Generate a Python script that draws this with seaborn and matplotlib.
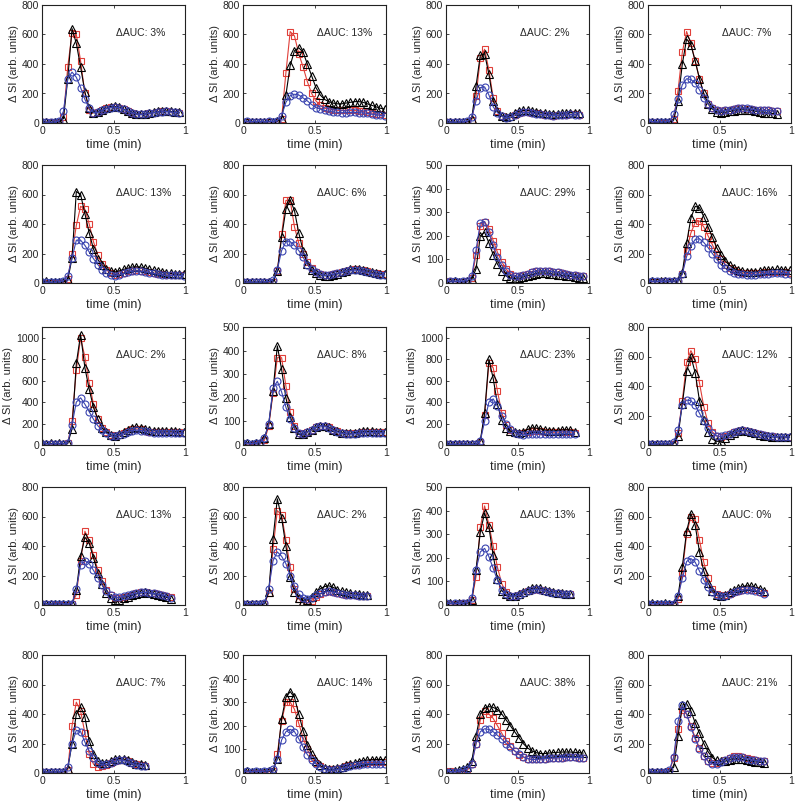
import numpy as np
import matplotlib
matplotlib.use("Agg")
import matplotlib.pyplot as plt
import seaborn as sns

dt = 0.03  # sampling step of the curves (min)

# row 1
red_p01 = [4, 8, 5, 3, 9, 40, 380, 610, 600, 420, 200, 90, 70, 75, 85, 100, 110, 110, 105, 95, 80, 70, 60, 60, 60, 65, 70, 75, 80, 80, 75, 75, 70]
blk_p01 = [5, 5, 3, 5, 10, 30, 300, 640, 540, 380, 210, 100, 70, 75, 85, 100, 110, 112, 108, 95, 80, 70, 62, 60, 62, 68, 72, 78, 80, 82, 78, 75, 72]
blu_p01 = [5, 5, 5, 6, 15, 80, 300, 345, 310, 240, 160, 100, 70, 72, 85, 98, 105, 108, 104, 92, 80, 68, 60, 58, 60, 65, 70, 74, 76, 78, 74, 72, 68]

red_p02 = [5, 8, 6, 4, 7, 5, 8, 6, 10, 30, 340, 620, 590, 470, 380, 280, 200, 150, 120, 100, 95, 90, 85, 85, 85, 85, 85, 80, 78, 72, 68, 62, 58, 55]
blk_p02 = [6, 10, 8, 5, 8, 6, 10, 8, 12, 30, 190, 390, 490, 510, 480, 400, 320, 240, 190, 160, 145, 135, 130, 130, 135, 140, 145, 145, 140, 130, 120, 110, 100, 95]
blu_p02 = [8, 12, 10, 8, 10, 8, 12, 10, 15, 50, 140, 185, 195, 190, 170, 150, 125, 105, 95, 85, 80, 75, 72, 70, 70, 72, 72, 70, 68, 65, 60, 55, 52, 50]

red_p03 = [5, 6, 4, 5, 6, 8, 20, 180, 440, 500, 360, 170, 80, 45, 35, 40, 55, 70, 75, 75, 70, 65, 60, 55, 52, 50, 52, 55, 55, 58, 58, 55]
blk_p03 = [6, 8, 5, 6, 8, 10, 30, 250, 460, 470, 330, 150, 80, 50, 40, 50, 65, 78, 85, 85, 80, 75, 70, 65, 62, 60, 62, 65, 68, 70, 70, 65]
blu_p03 = [5, 6, 5, 6, 8, 12, 40, 150, 240, 245, 190, 110, 70, 45, 35, 40, 55, 65, 72, 72, 68, 62, 58, 55, 52, 50, 52, 55, 55, 58, 55, 55]

red_p04 = [5, 6, 4, 2, 0, 5, 30, 220, 480, 620, 540, 420, 300, 200, 130, 100, 85, 80, 85, 90, 95, 100, 100, 98, 95, 90, 88, 85, 85, 82, 80]
blk_p04 = [6, 8, 5, 5, 5, 5, 20, 150, 400, 570, 530, 420, 300, 200, 130, 95, 75, 70, 72, 78, 82, 88, 90, 88, 85, 80, 75, 70, 68, 65, 62]
blu_p04 = [8, 10, 8, 6, 8, 10, 60, 160, 260, 300, 295, 270, 225, 170, 130, 100, 85, 80, 85, 90, 95, 100, 102, 100, 95, 90, 88, 85, 85, 82, 80]

# row 2
red_p05 = [0, 0, 0, 0, 0, 2, 30, 200, 390, 520, 500, 400, 280, 190, 130, 90, 65, 55, 60, 70, 78, 82, 85, 82, 78, 72, 68, 62, 58, 55, 55, 55, 55, 52]
blk_p05 = [8, 12, 5, 10, 6, 8, 20, 170, 620, 600, 470, 340, 230, 160, 120, 95, 80, 75, 82, 92, 100, 108, 110, 108, 100, 92, 85, 78, 72, 68, 65, 62, 60, 58]
blu_p05 = [5, 6, 5, 6, 8, 15, 50, 170, 290, 290, 255, 210, 165, 125, 90, 65, 52, 48, 55, 65, 72, 80, 82, 80, 75, 70, 65, 60, 55, 52, 52, 52, 52, 50]

red_p06 = [4, 6, 5, 4, 6, 5, 6, 10, 80, 330, 560, 560, 380, 270, 200, 140, 100, 75, 60, 52, 52, 58, 65, 72, 80, 88, 92, 90, 85, 78, 70, 65, 60, 58]
blk_p06 = [5, 8, 6, 5, 7, 6, 8, 10, 80, 310, 500, 565, 490, 340, 220, 130, 85, 65, 55, 50, 50, 55, 62, 72, 82, 92, 98, 95, 90, 82, 75, 68, 62, 60]
blu_p06 = [5, 6, 6, 5, 6, 8, 10, 20, 90, 220, 280, 280, 255, 220, 175, 125, 95, 75, 60, 52, 52, 58, 65, 72, 80, 85, 88, 85, 80, 72, 65, 60, 57, 55]

red_p07 = [4, 8, 6, 5, 6, 8, 20, 120, 240, 260, 230, 180, 130, 90, 60, 40, 30, 28, 32, 38, 45, 50, 52, 52, 50, 48, 45, 42, 38, 35, 32, 30, 28]
blk_p07 = [5, 6, 8, 6, 5, 8, 15, 60, 200, 215, 170, 120, 80, 50, 30, 20, 18, 20, 25, 30, 35, 40, 42, 42, 40, 38, 35, 32, 30, 28, 25, 22, 20]
blu_p07 = [6, 8, 8, 6, 8, 10, 30, 140, 255, 260, 215, 160, 110, 75, 50, 35, 28, 28, 32, 38, 45, 50, 52, 52, 50, 48, 45, 42, 38, 35, 32, 30, 28]

red_p08 = [8, 10, 9, 10, 12, 10, 12, 15, 60, 220, 340, 410, 420, 380, 320, 260, 200, 160, 125, 100, 85, 75, 68, 65, 65, 68, 70, 72, 75, 75, 75, 74, 72, 70]
blk_p08 = [10, 12, 10, 12, 12, 10, 12, 15, 70, 270, 440, 520, 510, 450, 380, 310, 240, 190, 150, 120, 100, 85, 78, 72, 72, 75, 80, 85, 88, 90, 92, 90, 88, 85]
blu_p08 = [10, 12, 12, 10, 12, 12, 14, 15, 60, 180, 250, 295, 300, 275, 240, 200, 160, 125, 100, 82, 70, 62, 58, 55, 55, 57, 60, 62, 64, 65, 65, 65, 64, 62]

# row 3
red_p09 = [10, 12, 8, 10, 12, 10, 15, 220, 700, 1000, 820, 580, 380, 240, 160, 120, 90, 80, 90, 110, 130, 145, 150, 145, 135, 125, 120, 118, 118, 120, 120, 118, 118, 115]
blk_p09 = [15, 12, 15, 10, 15, 12, 15, 150, 760, 1030, 720, 520, 350, 240, 160, 120, 95, 85, 100, 120, 140, 155, 165, 160, 150, 140, 135, 130, 130, 130, 130, 128, 125, 122]
blu_p09 = [10, 12, 10, 12, 10, 12, 20, 190, 400, 440, 380, 310, 240, 180, 140, 110, 85, 80, 90, 105, 125, 135, 140, 135, 128, 120, 115, 112, 112, 112, 112, 110, 110, 108]

red_p10 = [5, 0, 2, 5, 8, 20, 80, 220, 370, 370, 250, 140, 80, 50, 45, 55, 65, 75, 82, 82, 75, 65, 58, 52, 50, 48, 50, 52, 55, 55, 55, 55, 55, 54]
blk_p10 = [8, 10, 5, 8, 10, 30, 90, 230, 420, 320, 200, 120, 70, 45, 45, 55, 65, 75, 82, 82, 75, 65, 58, 52, 50, 50, 52, 55, 58, 58, 58, 57, 56, 55]
blu_p10 = [6, 8, 6, 8, 10, 30, 90, 240, 270, 225, 160, 110, 70, 50, 45, 55, 65, 75, 82, 80, 72, 62, 55, 50, 48, 46, 48, 50, 52, 52, 52, 52, 52, 51]

red_p11 = [5, 6, 5, 4, 6, 5, 6, 5, 30, 280, 760, 720, 500, 300, 190, 140, 115, 105, 110, 120, 128, 130, 128, 122, 118, 118, 120, 122, 122, 120, 115]
blk_p11 = [6, 8, 6, 5, 8, 6, 8, 5, 40, 300, 800, 620, 380, 230, 160, 130, 120, 115, 125, 145, 160, 158, 150, 138, 132, 132, 135, 140, 142, 138, 125]
blu_p11 = [8, 6, 8, 6, 8, 6, 8, 5, 40, 220, 400, 430, 360, 270, 200, 150, 115, 100, 95, 98, 102, 105, 105, 102, 100, 100, 102, 104, 104, 103, 100]

red_p12 = [5, 6, 5, 6, 5, 6, 10, 80, 300, 560, 640, 580, 420, 260, 150, 90, 60, 55, 62, 75, 85, 95, 100, 98, 90, 80, 72, 65, 60, 58, 56, 55, 55, 54]
blk_p12 = [6, 8, 6, 5, 8, 6, 10, 60, 280, 500, 600, 490, 300, 170, 90, 40, 25, 25, 45, 65, 82, 95, 100, 98, 88, 78, 70, 62, 58, 55, 55, 55, 54, 53]
blu_p12 = [8, 6, 8, 8, 6, 10, 20, 100, 270, 305, 300, 270, 215, 160, 115, 80, 62, 58, 65, 75, 85, 95, 100, 98, 90, 80, 72, 65, 60, 58, 56, 55, 55, 54]

# row 4
red_p13 = [5, 8, 6, 0, 0, 0, 2, 10, 70, 300, 500, 440, 340, 240, 160, 100, 65, 50, 50, 55, 62, 70, 78, 85, 85, 82, 78, 72, 68, 60, 52]
blk_p13 = [8, 10, 6, 8, 10, 8, 6, 10, 100, 330, 460, 420, 320, 220, 140, 80, 45, 32, 35, 45, 55, 65, 75, 82, 85, 82, 76, 70, 62, 52, 42]
blu_p13 = [6, 8, 8, 6, 8, 8, 6, 10, 110, 270, 300, 280, 235, 185, 135, 95, 65, 52, 52, 58, 65, 72, 80, 85, 85, 82, 78, 72, 68, 60, 50]

red_p14 = [5, 6, 5, 6, 8, 10, 80, 380, 640, 610, 440, 260, 110, 40, 15, 15, 30, 55, 75, 88, 92, 90, 82, 75, 70, 68, 65, 64, 62, 60]
blk_p14 = [6, 8, 6, 8, 6, 10, 90, 450, 720, 590, 400, 190, 90, 45, 30, 35, 55, 85, 110, 125, 130, 120, 105, 92, 85, 80, 75, 72, 70, 68]
blu_p14 = [8, 10, 8, 10, 8, 15, 110, 300, 360, 330, 280, 200, 130, 75, 50, 42, 50, 65, 78, 88, 92, 88, 82, 75, 70, 68, 65, 64, 62, 60]

red_p15 = [5, 6, 0, 4, 8, 6, 20, 120, 330, 420, 340, 250, 160, 90, 55, 40, 38, 42, 50, 60, 65, 68, 65, 60, 55, 52, 50, 48, 46, 45]
blk_p15 = [6, 8, 6, 8, 6, 8, 20, 150, 310, 390, 330, 210, 110, 60, 45, 38, 40, 45, 55, 65, 70, 72, 70, 65, 58, 55, 52, 50, 48, 46]
blu_p15 = [8, 6, 8, 6, 8, 10, 30, 150, 225, 240, 205, 155, 105, 65, 45, 38, 38, 42, 50, 60, 65, 66, 64, 60, 55, 52, 50, 48, 46, 45]

red_p16 = [5, 0, 0, 0, 0, 3, 5, 40, 220, 480, 600, 580, 440, 290, 180, 110, 75, 62, 65, 75, 88, 98, 105, 108, 105, 100, 90, 78]
blk_p16 = [10, 15, 8, 10, 12, 8, 10, 60, 260, 500, 620, 540, 360, 230, 150, 95, 65, 60, 70, 85, 100, 115, 125, 130, 128, 120, 110, 95]
blu_p16 = [8, 10, 8, 10, 8, 10, 10, 60, 180, 295, 315, 290, 230, 170, 120, 85, 65, 58, 62, 72, 85, 95, 102, 105, 102, 98, 88, 75]

# row 5
red_p17 = [5, 6, 5, 6, 5, 8, 20, 320, 480, 420, 270, 130, 60, 40, 45, 55, 70, 82, 90, 88, 80, 70, 60, 52, 48]
blk_p17 = [6, 8, 6, 8, 6, 10, 30, 200, 400, 450, 380, 220, 130, 80, 65, 70, 80, 92, 98, 95, 85, 72, 62, 58, 55]
blu_p17 = [8, 6, 8, 6, 8, 10, 40, 200, 290, 280, 210, 150, 100, 65, 55, 58, 68, 80, 88, 85, 75, 65, 55, 48, 45]

red_p18 = [5, 0, 0, 0, 0, 2, 5, 10, 80, 220, 300, 300, 270, 210, 150, 100, 65, 42, 28, 18, 15, 15, 18, 22, 28, 32, 36, 40, 42, 44, 45, 45, 45, 45]
blk_p18 = [6, 8, 5, 6, 5, 6, 8, 10, 60, 230, 320, 345, 320, 250, 180, 120, 80, 52, 32, 20, 15, 15, 20, 26, 32, 38, 44, 48, 52, 55, 56, 57, 57, 56]
blu_p18 = [6, 8, 6, 8, 6, 8, 10, 15, 60, 140, 175, 185, 175, 145, 110, 78, 55, 38, 25, 15, 12, 12, 15, 20, 24, 28, 32, 35, 38, 40, 40, 40, 40, 40]

red_p19 = [10, 12, 8, 5, 10, 20, 60, 200, 360, 420, 400, 370, 320, 270, 220, 180, 150, 125, 108, 98, 92, 92, 95, 98, 100, 102, 104, 105, 106, 106, 106, 105, 105]
blk_p19 = [10, 8, 12, 20, 30, 40, 80, 250, 400, 440, 450, 445, 430, 400, 360, 320, 280, 240, 200, 170, 150, 138, 132, 132, 135, 138, 140, 142, 142, 142, 140, 138, 135]
blu_p19 = [8, 10, 8, 10, 20, 30, 60, 200, 280, 300, 295, 280, 255, 230, 200, 175, 150, 128, 110, 98, 92, 92, 95, 98, 100, 102, 104, 105, 106, 106, 106, 105, 105]

red_p20 = [8, 6, 5, 0, 6, 15, 100, 300, 430, 400, 320, 240, 170, 115, 80, 65, 65, 75, 90, 105, 112, 112, 108, 100, 92, 88, 84, 80]
blk_p20 = [10, 8, 6, 8, 6, 10, 40, 250, 460, 470, 420, 340, 270, 200, 145, 105, 85, 78, 80, 88, 95, 95, 92, 85, 80, 75, 72, 70]
blu_p20 = [6, 8, 6, 8, 8, 20, 110, 350, 460, 400, 310, 230, 165, 115, 80, 62, 62, 72, 88, 102, 110, 110, 106, 98, 90, 86, 82, 78]

y_max = [800, 800, 800, 800,
         800, 800, 500, 800,
         1100, 500, 1100, 800,
         800, 800, 500, 800,
         800, 500, 800, 800]
d_auc = [3, 13, 2, 7, 13, 6, 29, 16, 2, 8, 23, 12, 13, 2, 13, 0, 7, 14, 38, 21]

reds = [red_p01, red_p02, red_p03, red_p04, red_p05, red_p06, red_p07, red_p08, red_p09, red_p10,
        red_p11, red_p12, red_p13, red_p14, red_p15, red_p16, red_p17, red_p18, red_p19, red_p20]
blks = [blk_p01, blk_p02, blk_p03, blk_p04, blk_p05, blk_p06, blk_p07, blk_p08, blk_p09, blk_p10,
        blk_p11, blk_p12, blk_p13, blk_p14, blk_p15, blk_p16, blk_p17, blk_p18, blk_p19, blk_p20]
blus = [blu_p01, blu_p02, blu_p03, blu_p04, blu_p05, blu_p06, blu_p07, blu_p08, blu_p09, blu_p10,
        blu_p11, blu_p12, blu_p13, blu_p14, blu_p15, blu_p16, blu_p17, blu_p18, blu_p19, blu_p20]

sns.set_style("ticks")
plt.rcParams["font.family"] = ["Liberation Sans", "DejaVu Sans"]
plt.rcParams.update({
    "xtick.direction": "in", "ytick.direction": "in",
    "xtick.top": True, "ytick.right": True,
    "xtick.major.size": 2.5, "ytick.major.size": 2.5,
    "xtick.major.width": 0.6, "ytick.major.width": 0.6,
    "xtick.major.pad": 2.5, "ytick.major.pad": 2,
    "xtick.labelsize": 7.5, "ytick.labelsize": 7.5,
    "axes.linewidth": 0.8, "axes.edgecolor": "#222222",
})

fig = plt.figure(figsize=(8, 8.01), dpi=100)
col_left = [42, 243, 446, 648]
row_top = [5, 165, 327, 487, 655]
W, H = 143, 118

# (marker, color, size) for red squares, black triangles, blue circles
styles = [("s", "#e0403a", 4.8), ("^", "#000000", 5.4), ("o", "#3a44b0", 5.0)]

for k in range(20):
    r, c = divmod(k, 4)
    ax = fig.add_axes([col_left[c] / 800, 1 - (row_top[r] + H) / 801, W / 800, H / 801])
    for vals, (mk, col, ms) in zip([reds[k], blks[k], blus[k]], styles):
        t = np.arange(len(vals)) * dt
        sns.lineplot(x=t, y=vals, ax=ax, estimator=None, sort=False,
                     color=col, lw=0.8, marker=mk, markersize=ms,
                     mfc="none", mec=col, mew=0.8)
    ax.set_xlim(0, 1)
    ax.set_ylim(0, y_max[k])
    ax.set_xticks([0, 0.5, 1])
    ax.set_xticklabels(["0", "0.5", "1"])
    step = 100 if y_max[k] == 500 else 200
    yt = np.arange(0, y_max[k] + 1, step)
    ax.set_yticks(yt[yt <= 1000])
    ax.set_xlabel("time (min)", fontsize=9, labelpad=1.5)
    ax.set_ylabel("Δ SI (arb. units)", fontsize=8, labelpad=2)
    ax.text(0.52, 0.74, f"ΔAUC: {d_auc[k]}%", transform=ax.transAxes, fontsize=7.5)

fig.savefig("out.png", dpi=100)
